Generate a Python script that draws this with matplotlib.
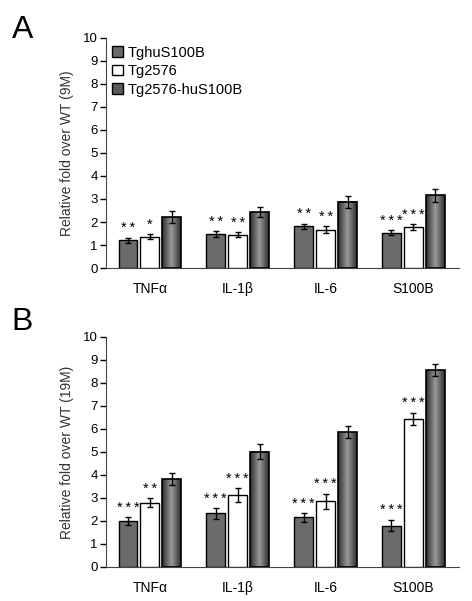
import numpy as np
import matplotlib
matplotlib.use('Agg')
from matplotlib import pyplot as plt
from matplotlib.colors import LinearSegmentedColormap
from matplotlib.patches import Patch

categories = ['TNF\u03b1', 'IL-1\u03b2', 'IL-6', 'S100B']
series_names = ['TghuS100B', 'Tg2576', 'Tg2576-huS100B']

# panel A (9M)
a_hu = [1.20, 1.49, 1.81, 1.54]
a_hu_err = [0.12, 0.12, 0.12, 0.10]
a_tg = [1.37, 1.45, 1.67, 1.77]
a_tg_err = [0.10, 0.12, 0.15, 0.13]
a_both = [2.20, 2.43, 2.87, 3.16]
a_both_err = [0.26, 0.22, 0.27, 0.27]
a_stars_hu = ['**', '**', '**', '***']
a_stars_tg = ['*', '**', '**', '***']

# panel B (19M)
b_hu = [1.99, 2.33, 2.15, 1.80]
b_hu_err = [0.17, 0.24, 0.20, 0.25]
b_tg = [2.79, 3.12, 2.86, 6.44]
b_tg_err = [0.20, 0.30, 0.32, 0.26]
b_both = [3.82, 5.01, 5.86, 8.55]
b_both_err = [0.28, 0.33, 0.26, 0.27]
b_stars_hu = ['***', '***', '***', '***']
b_stars_tg = ['**', '***', '***', '***']

plt.rcParams['font.family'] = ['Liberation Sans', 'DejaVu Sans']

cyl = LinearSegmentedColormap.from_list('cyl', ['#2e2e2e', '#9a9a9a', '#2e2e2e'])


def stars(s):
    # reference stars are spread out a bit
    return '\u2009'.join(s)


def panel(ax, hu, hu_err, tg, tg_err, both, both_err, stars_hu, stars_tg, ylabel):
    x = np.arange(len(categories))
    w = 0.215
    ekw = dict(ecolor='black', elinewidth=1, capsize=2.5, capthick=1)
    ax.bar(x - 0.25, hu, w, color='#6b6b6b', edgecolor='black', linewidth=1,
           yerr=hu_err, error_kw=ekw, zorder=3)
    ax.bar(x, tg, w, color='white', edgecolor='black', linewidth=1,
           yerr=tg_err, error_kw=ekw, zorder=3)
    bars = ax.bar(x + 0.25, both, w, color='none', edgecolor='black', linewidth=1.2,
                  yerr=both_err, error_kw=ekw, zorder=4)
    grad = np.linspace(0, 1, 64).reshape(1, -1)
    for p in bars.patches:
        ax.imshow(grad, cmap=cyl, aspect='auto', zorder=2.5,
                  extent=[p.get_x(), p.get_x() + p.get_width(), 0, p.get_height()])
    for i in range(len(categories)):
        ax.text(x[i] - 0.25, hu[i] + hu_err[i] + 0.1, stars(stars_hu[i]), ha='center',
                va='bottom', fontsize=10.5)
        ax.text(x[i], tg[i] + tg_err[i] + 0.1, stars(stars_tg[i]), ha='center',
                va='bottom', fontsize=10.5)
    ax.set_xlim(-0.5, 3.52)
    ax.set_ylim(0, 10)
    ax.set_yticks(range(0, 11))
    ax.set_xticks(x)
    ax.set_xticklabels(categories, fontsize=10)
    ax.tick_params(axis='x', length=0, pad=10)
    ax.tick_params(axis='y', labelsize=9.5, length=4, width=1, pad=2)
    ax.spines['top'].set_visible(False)
    ax.spines['right'].set_visible(False)
    ax.spines['left'].set_color('#444444')
    ax.spines['bottom'].set_color('#444444')
    ax.set_ylabel(ylabel, fontsize=10, color='#333333', labelpad=6)


fig = plt.figure(figsize=(4.72, 6.01), dpi=100)
ax_a = fig.add_axes([0.2246, 0.554, 0.748, 0.383])
ax_b = fig.add_axes([0.2246, 0.0566, 0.748, 0.383])

panel(ax_a, a_hu, a_hu_err, a_tg, a_tg_err, a_both, a_both_err,
      a_stars_hu, a_stars_tg, 'Relative fold over WT (9M)')
panel(ax_b, b_hu, b_hu_err, b_tg, b_tg_err, b_both, b_both_err,
      b_stars_hu, b_stars_tg, 'Relative fold over WT (19M)')

handles = [Patch(facecolor='#6b6b6b', edgecolor='black'),
           Patch(facecolor='white', edgecolor='black'),
           Patch(facecolor='#5a5a5a', edgecolor='black')]
ax_a.legend(handles, series_names, loc='upper left', bbox_to_anchor=(-0.012, 1.01),
            frameon=False, fontsize=10.5, handlelength=0.75, handleheight=0.75,
            handletextpad=0.3, labelspacing=0.3, borderaxespad=0.3)

fig.text(0.025, 0.975, 'A', fontsize=23, va='top', ha='left')
fig.text(0.025, 0.49, 'B', fontsize=23, va='top', ha='left')

fig.savefig('out.png', dpi=100)
